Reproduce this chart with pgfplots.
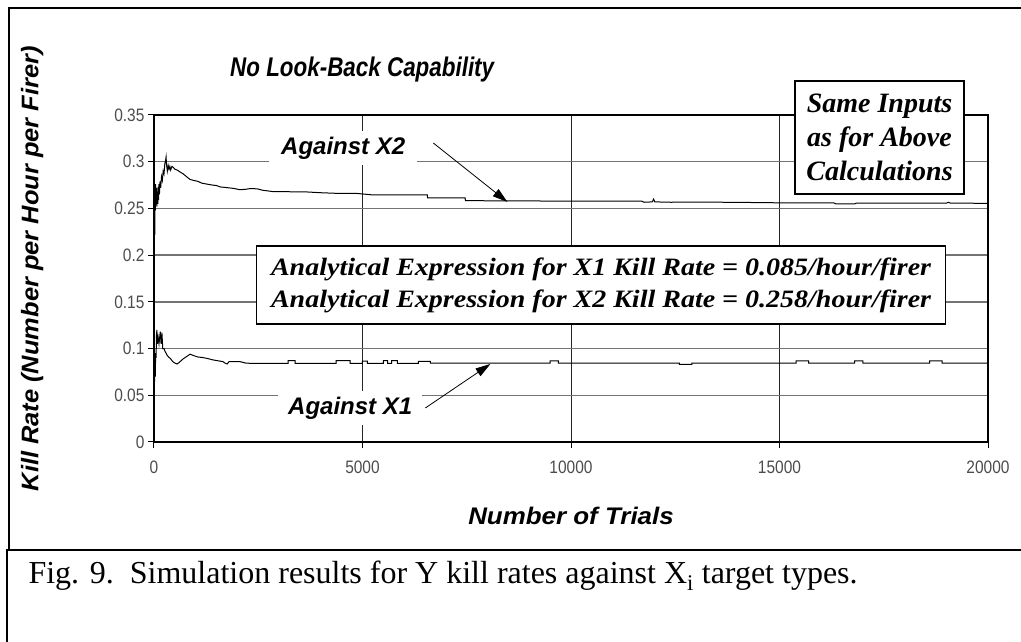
\documentclass[border=0pt]{standalone}
\usepackage{fontspec}
\setmainfont{Liberation Serif}
\setsansfont{Liberation Sans}
\newfontfamily\arialf{Liberation Sans}
\newfontfamily\timesf{Liberation Serif}
\usepackage{graphicx}
\usepackage{pgfplots}
\pgfplotsset{compat=1.18}
\usetikzlibrary{arrows.meta}
\newcommand{\fs}[1]{\fontsize{#1}{#1}\selectfont}
\newcommand{\tl}[1]{\scalebox{0.86}[1]{#1}}

\pgfplotstableread{
x y
1 0.200
5 0.27
10 0.232
15 0.262
20 0.222
25 0.266
30 0.248
40 0.276
50 0.254
60 0.272
70 0.252
80 0.268
90 0.255
100 0.273
110 0.259
120 0.276
130 0.265
145 0.279
160 0.272
180 0.284
200 0.280
220 0.290
240 0.287
260 0.298
280 0.302
290 0.305
300 0.297
320 0.290
340 0.296
360 0.292
380 0.295
400 0.291
430 0.295
460 0.294
500 0.292
560 0.291
624 0.289
700 0.287
780 0.284
864 0.281
950 0.280
1050 0.279
1150 0.277
1272 0.276
1400 0.275
1500 0.2745
1585 0.273
1700 0.2725
1800 0.272
1900 0.2715
2065 0.270
2200 0.2705
2300 0.2712
2473 0.271
2600 0.2695
2857 0.268
3100 0.268
3400 0.2677
3673 0.2676
4000 0.2668
4466 0.266
4874 0.266
5000 0.2655
5258 0.2644
5906 0.2644
6555 0.2644
6560 0.2612
7460 0.2612
7470 0.2583
9000 0.2580
10000 0.2578
11700 0.2578
11750 0.2566
11950 0.2570
11980 0.2600
12010 0.2570
12400 0.2566
13000 0.2568
14000 0.2565
15000 0.2560
16300 0.2560
16350 0.2548
16800 0.2548
16850 0.2558
19000 0.2556
19050 0.2566
19100 0.2556
20000 0.2555
}\xtwo

\pgfplotstableread{
x y
1 0.055
5 0.083
10 0.060
20 0.080
30 0.070
40 0.095
50 0.090
60 0.115
70 0.120
80 0.105
100 0.112
120 0.105
150 0.118
170 0.105
190 0.117
210 0.100
240 0.100
264 0.097
290 0.095
312 0.093
350 0.091
400 0.089
450 0.086
500 0.0845
552 0.0835
600 0.085
700 0.089
800 0.092
864 0.094
950 0.0925
1050 0.091
1150 0.0905
1272 0.0895
1400 0.088
1550 0.0868
1657 0.086
1700 0.0845
1753 0.0835
1800 0.086
2065 0.086
2200 0.0845
2305 0.0842
3217 0.0842
3217 0.0870
3385 0.0870
3385 0.0842
4370 0.0842
4370 0.0870
4706 0.0870
4706 0.0842
4994 0.0842
4994 0.0865
5114 0.0865
5114 0.0842
5498 0.0842
5498 0.0870
5600 0.0870
5600 0.0842
5700 0.0842
5700 0.0870
5834 0.0870
5834 0.0842
6339 0.0842
6339 0.0862
6627 0.0862
6627 0.0845
9500 0.0845
9500 0.0868
9700 0.0868
9700 0.0845
12600 0.0845
12600 0.0830
12900 0.0830
12900 0.0845
15400 0.0845
15400 0.0868
15700 0.0868
15700 0.0845
16800 0.0845
16800 0.0868
17000 0.0868
17000 0.0845
18600 0.0845
18600 0.0868
18900 0.0868
18900 0.0845
20000 0.0845
}\xone

\begin{document}
\begin{tikzpicture}
\path[use as bounding box] (0,0) rectangle (1021pt,642pt);
\begin{axis}[
  at={(154pt,200pt)}, anchor=south west,
  scale only axis, width=834pt, height=327pt,
  xmin=0, xmax=20000, ymin=0, ymax=0.35,
  scaled x ticks=false, scaled y ticks=false,
  xtick={0,5000,10000,15000,20000},
  xticklabels={\tl{0},\tl{5000},\tl{10000},\tl{15000},\tl{20000}},
  ytick={0,0.05,0.1,0.15,0.2,0.25,0.3,0.35},
  yticklabels={\tl{0},\tl{0.05},\tl{0.1},\tl{0.15},\tl{0.2},\tl{0.25},\tl{0.3},\tl{0.35}},
  tick pos=left, tick align=outside, major tick length=6pt,
  tick style={black, line width=1pt},
  ticklabel style={font=\arialf\fs{18}, text=black!70},
  xticklabel style={yshift=-9pt},
  grid=major,
  major x grid style={black!85, line width=1pt},
  major y grid style={black!55, line width=1.3pt},
  axis line style={line width=1.5pt},
  xlabel={\scalebox{1.08}[1]{Number of Trials}},
  xlabel style={font=\arialf\bfseries\itshape\fs{24}, at={(axis description cs:0.5,-0.226)}, anchor=center},
  ylabel={\scalebox{1.06}[1]{Kill Rate (Number per Hour per Firer)}},
  ylabel style={font=\arialf\bfseries\itshape\fs{24}, at={(axis description cs:-0.146,0.53)}, anchor=center},
]
\addplot[black, line width=1pt] table[x=x,y=y] {\xtwo};
\addplot[black, line width=1pt] table[x=x,y=y] {\xone};

\node[fill=white, inner xsep=12pt, inner ysep=6pt, font=\arialf\bfseries\itshape\fs{24}] at (axis cs:4538,0.3147) {Against X2};
\draw[line width=0.8pt, -{Triangle[length=15pt,width=9pt]}] (axis cs:6699,0.320) -- (axis cs:8476,0.2569);
\node[fill=white, inner xsep=10pt, inner ysep=6pt, font=\arialf\bfseries\itshape\fs{24}] at (axis cs:4706,0.0364) {Against X1};
\draw[line width=0.8pt, -{Triangle[length=15pt,width=9pt]}] (axis cs:6507,0.0364) -- (axis cs:8067,0.0835);

\node[draw, line width=1.3pt, fill=white, minimum width=689pt, minimum height=78pt, align=center, font=\timesf\bfseries\itshape\fs{25}] at (axis cs:10721,0.168)
  {\scalebox{1.12}[1]{Analytical Expression for X1 Kill Rate = 0.085/hour/firer}\\[7pt]
   \scalebox{1.12}[1]{Analytical Expression for X2 Kill Rate = 0.258/hour/firer}};
\end{axis}

\node[draw, line width=1.3pt, fill=white, minimum width=169pt, minimum height=113pt, align=center, font=\timesf\bfseries\itshape\fs{28}] at (879.5pt,504.5pt)
  {Same Inputs\\[6pt]as for Above\\[6pt]Calculations};

\node[anchor=west, inner sep=0pt, font=\arialf\bfseries\itshape\fs{27}] at (230pt,572pt) {\scalebox{0.83}[1]{No Look-Back Capability}};

\draw[line width=1.6pt] (9pt,92pt) -- (9pt,634pt) -- (1030pt,634pt);
\draw[line width=1.6pt] (7pt,-5pt) -- (7pt,92pt) -- (1030pt,92pt);

\node[anchor=west, font=\timesf\fs{32}] at (25pt,66pt) {Fig. 9.\ \ Simulation results for Y kill rates against X\textsubscript{i} target types.};
\end{tikzpicture}
\end{document}
